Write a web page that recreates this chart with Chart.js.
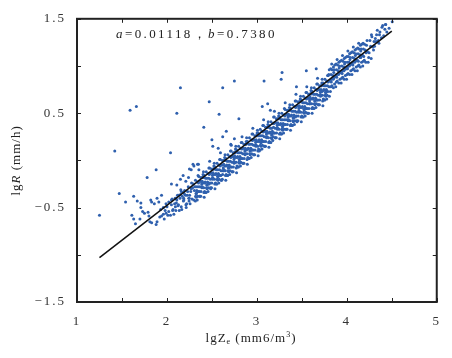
<!DOCTYPE html>
<html>
<head>
<meta charset="utf-8">
<script src="https://cdn.jsdelivr.net/npm/chart.js@4.4.1/dist/chart.umd.min.js"></script>
<style>
  body { margin: 0; background: #fff; }
  canvas { display: block; }
</style>
</head>
<body>
<canvas id="chart" width="452" height="358"></canvas>
<script>
// radar samples: lgZe (x) against lgR (y)
const lgZ = [
  // scattered points away from the cloud
  1.25,1.42,1.59,1.66,2.15,2.11,2.04,1.88,1.78,1.47,1.54,1.63,2.47,2.41,2.50,2.62,2.75,3.08,3.28,3.27,
  2.58,2.80,2.62,2.66,3.12,3.06,3.15,2.75,2.71,2.51,2.57,2.29,2.35,2.25,2.41,3.44,3.55,3.66,
  // low end of the cloud
  1.67,1.71,1.71,1.73,1.61,1.63,1.65,1.70,1.75,1.79,1.80,1.82,1.83,1.86,1.89,1.91,1.94,1.81,1.83,1.88,
  1.89,1.92,1.94,1.96,1.99,2.02,1.99,2.02,2.05,2.10,2.13,2.16,2.05,2.11,2.15,2.18,2.21,2.24,2.27,2.30,2.34,
  1.96,1.97,2.00,2.01,1.93,1.98,
  2.050,2.063,2.039,2.057,
  2.085,2.068,2.091,2.077,2.094,
  2.110,2.123,2.099,2.117,2.105,
  2.145,2.128,2.151,2.137,2.154,
  2.170,2.183,2.159,2.177,2.165,2.186,
  2.205,2.188,2.211,2.197,2.214,2.192,
  2.230,2.243,2.219,2.237,2.225,2.246,
  2.265,2.248,2.271,2.257,2.274,2.252,
  2.285,2.279,
  // main band
  2.310,2.323,2.299,2.317,2.305,2.326,2.295,
  2.345,2.328,2.351,2.337,2.354,2.332,2.342,
  2.370,2.383,2.359,2.377,2.365,2.386,2.355,
  2.405,2.388,2.411,2.397,2.414,2.392,2.402,
  2.430,2.443,2.419,2.437,2.425,2.446,2.415,
  2.465,2.448,2.471,2.457,2.474,2.452,2.462,
  2.490,2.503,2.479,2.497,2.485,2.506,2.475,
  2.525,2.508,2.531,2.517,2.534,2.512,2.522,
  2.550,2.563,2.539,2.557,2.545,2.566,2.535,
  2.585,2.568,2.591,2.577,2.594,2.572,2.582,
  2.610,2.623,2.599,2.617,2.605,2.626,2.595,
  2.645,2.628,2.651,2.637,2.654,2.632,2.642,
  2.670,2.683,2.659,2.677,2.665,2.686,2.655,
  2.705,2.688,2.711,2.697,2.714,2.692,2.702,
  2.730,2.743,2.719,2.737,2.725,2.746,2.715,
  2.765,2.748,2.771,2.757,2.774,2.752,2.762,
  2.790,2.803,2.779,2.797,2.785,2.806,2.775,
  2.825,2.808,2.831,2.817,2.834,2.812,2.822,
  2.850,2.863,2.839,2.857,2.845,2.866,2.835,
  2.885,2.868,2.891,2.877,2.894,2.872,2.882,
  2.910,2.923,2.899,2.917,2.905,2.926,2.895,
  2.945,2.928,2.951,2.937,2.954,2.932,2.942,
  2.970,2.983,2.959,2.977,2.965,2.986,2.955,
  3.005,2.988,3.011,2.997,3.014,2.992,3.002,
  3.030,3.043,3.019,3.037,3.025,3.046,3.015,
  3.065,3.048,3.071,3.057,3.074,3.052,3.062,
  3.090,3.103,3.079,3.097,3.085,3.106,3.075,
  3.125,3.108,3.131,3.117,3.134,3.112,3.122,
  3.150,3.163,3.139,3.157,3.145,3.166,3.135,
  3.185,3.168,3.191,3.177,3.194,3.172,3.182,
  3.210,3.223,3.199,3.217,3.205,3.226,3.195,
  3.245,3.228,3.251,3.237,3.254,3.232,3.242,
  3.270,3.283,3.259,3.277,3.265,3.286,3.255,
  3.305,3.288,3.311,3.297,3.314,3.292,3.302,
  3.330,3.343,3.319,3.337,3.325,3.346,3.315,
  3.365,3.348,3.371,3.357,3.374,3.352,3.362,
  3.390,3.403,3.379,3.397,3.385,3.406,3.375,
  3.425,3.408,3.431,3.417,3.434,3.412,3.422,
  3.450,3.463,3.439,3.457,3.445,3.466,3.435,
  3.485,3.468,3.491,3.477,3.494,3.472,3.482,
  3.510,3.523,3.499,3.517,3.505,3.526,3.495,
  3.545,3.528,3.551,3.537,3.554,3.532,3.542,
  3.570,3.583,3.559,3.577,3.565,3.586,3.555,
  3.605,3.588,3.611,3.597,3.614,3.592,3.602,
  3.630,3.643,3.619,3.637,3.625,3.646,3.615,
  3.665,3.648,3.671,3.657,3.674,3.652,3.662,
  3.690,3.703,3.679,3.697,3.685,3.706,3.675,
  3.725,3.708,3.731,3.717,3.734,3.712,3.722,
  3.750,3.763,3.739,3.757,3.745,3.766,3.735,
  3.785,3.768,3.791,3.777,3.794,3.772,3.782,
  // main band, in-between columns
  2.325,2.333,2.319,2.336,2.316,
  2.355,2.363,2.349,2.366,2.346,
  2.385,2.393,2.379,2.396,2.376,
  2.415,2.423,2.409,2.426,2.406,
  2.445,2.453,2.439,2.456,2.436,
  2.475,2.483,2.469,2.486,2.466,
  2.505,2.513,2.499,2.516,2.496,
  2.535,2.543,2.529,2.546,2.526,
  2.565,2.573,2.559,2.576,2.556,
  2.595,2.603,2.589,2.606,2.586,
  2.625,2.633,2.619,2.636,2.616,
  2.655,2.663,2.649,2.666,2.646,
  2.685,2.693,2.679,2.696,2.676,
  2.715,2.723,2.709,2.726,2.706,
  2.745,2.753,2.739,2.756,2.736,
  2.775,2.783,2.769,2.786,2.766,
  2.805,2.813,2.799,2.816,2.796,
  2.835,2.843,2.829,2.846,2.826,
  2.865,2.873,2.859,2.876,2.856,
  2.895,2.903,2.889,2.906,2.886,
  2.925,2.933,2.919,2.936,2.916,
  2.955,2.963,2.949,2.966,2.946,
  2.985,2.993,2.979,2.996,2.976,
  3.015,3.023,3.009,3.026,3.006,
  3.045,3.053,3.039,3.056,3.036,
  3.075,3.083,3.069,3.086,3.066,
  3.105,3.113,3.099,3.116,3.096,
  3.135,3.143,3.129,3.146,3.126,
  3.165,3.173,3.159,3.176,3.156,
  3.195,3.203,3.189,3.206,3.186,
  3.225,3.233,3.219,3.236,3.216,
  3.255,3.263,3.249,3.266,3.246,
  3.285,3.293,3.279,3.296,3.276,
  3.315,3.323,3.309,3.326,3.306,
  3.345,3.353,3.339,3.356,3.336,
  3.375,3.383,3.369,3.386,3.366,
  3.405,3.413,3.399,3.416,3.396,
  3.435,3.443,3.429,3.446,3.426,
  3.465,3.473,3.459,3.476,3.456,
  3.495,3.503,3.489,3.506,3.486,
  3.525,3.533,3.519,3.536,3.516,
  3.555,3.563,3.549,3.566,3.546,
  3.585,3.593,3.579,3.596,3.576,
  3.615,3.623,3.609,3.626,3.606,
  3.645,3.653,3.639,3.656,3.636,
  3.675,3.683,3.669,3.686,3.666,
  3.705,3.713,3.699,3.716,3.696,
  3.735,3.743,3.729,3.746,3.726,
  3.765,3.773,3.759,3.776,3.756,
  3.795,3.803,3.789,3.806,3.786,
  // high end
  3.810,3.823,3.799,3.817,3.805,3.826,
  3.845,3.828,3.851,3.837,3.854,3.832,
  3.870,3.883,3.859,3.877,3.865,3.886,
  3.905,3.888,3.911,3.897,3.914,3.892,
  3.930,3.943,3.919,3.937,3.925,3.946,
  3.965,3.948,3.971,3.957,3.974,3.952,
  3.990,4.003,3.979,3.997,3.985,4.006,
  4.025,4.008,4.031,4.017,4.034,4.012,
  4.050,4.063,4.039,4.057,4.045,4.066,
  4.085,4.068,4.091,4.077,4.094,4.072,
  4.110,4.123,4.099,4.117,4.105,
  4.145,4.128,4.151,4.137,4.154,4.132,
  4.170,4.183,4.159,4.177,4.165,
  4.205,4.188,4.211,4.197,4.214,
  4.230,4.243,4.219,4.237,4.225,
  4.265,4.248,4.271,4.257,4.274,
  4.290,4.303,4.279,4.297,
  4.325,4.308,4.331,4.317,
  4.350,4.363,4.339,4.357,
  4.385,4.368,4.391,
  4.410,4.423,4.399,
  4.445,4.432,
  4.470,4.505,4.430,
  3.825,3.818,3.834,3.821,
  3.855,3.848,3.864,3.851,
  3.885,3.878,3.894,3.881,
  3.915,3.908,3.924,3.911,
  3.945,3.938,3.954,3.941,
  3.975,3.968,3.984,3.971,
  4.005,3.998,4.014,4.001,
  4.035,4.028,4.044,4.031,
  4.065,4.058,4.074,4.061,
  4.095,4.088,4.104,4.091,
  4.125,4.118,4.134,4.121,
  4.155,4.148,4.164,4.151,
  4.185,4.178,4.194,4.181
];

const lgR = [
  -0.58,0.10,0.53,0.57,0.77,0.50,0.08,-0.10,-0.18,-0.35,-0.44,-0.38,0.62,0.35,0.22,0.77,0.84,0.84,0.93,0.86,
  0.49,0.44,0.25,0.31,0.60,0.57,0.53,0.23,0.17,0.15,0.13,-0.04,-0.04,-0.09,-0.16,0.78,0.95,0.97,
  -0.43,-0.45,-0.50,-0.54,-0.58,-0.62,-0.67,-0.62,-0.56,-0.55,-0.59,-0.42,-0.44,-0.46,-0.40,-0.44,-0.37,-0.65,-0.66,-0.68,
  -0.65,-0.60,-0.59,-0.57,-0.56,-0.54,-0.46,-0.44,-0.42,-0.40,-0.37,-0.33,-0.25,-0.26,-0.20,-0.16,-0.22,-0.18,-0.10,-0.06,-0.04,
  -0.50,-0.62,-0.49,-0.58,-0.52,-0.53,
  -0.47,-0.53,-0.58,-0.41,
  -0.46,-0.52,-0.40,-0.57,-0.49,
  -0.42,-0.48,-0.53,-0.37,-0.45,
  -0.40,-0.47,-0.36,-0.53,-0.31,
  -0.38,-0.43,-0.49,-0.34,-0.52,-0.40,
  -0.37,-0.42,-0.47,-0.32,-0.50,-0.35,
  -0.33,-0.40,-0.46,-0.28,-0.37,-0.43,
  -0.33,-0.40,-0.30,-0.46,-0.24,-0.37,
  -0.29,-0.41,
  -0.28,-0.35,-0.42,-0.21,-0.32,-0.39,-0.25,
  -0.28,-0.35,-0.24,-0.42,-0.17,-0.32,-0.38,
  -0.22,-0.28,-0.33,-0.18,-0.38,-0.25,-0.10,
  -0.24,-0.29,-0.34,-0.18,-0.39,-0.22,-0.15,
  -0.19,-0.26,-0.33,-0.12,-0.23,-0.30,-0.16,
  -0.19,-0.26,-0.15,-0.33,-0.08,-0.23,-0.29,
  -0.13,-0.19,-0.24,-0.09,-0.29,-0.16,-0.01,
  -0.15,-0.20,-0.25,-0.09,-0.30,-0.13,-0.06,
  -0.10,-0.17,-0.24,-0.03,-0.14,-0.21,-0.07,
  -0.10,-0.17,-0.06,-0.24,0.01,-0.14,-0.20,
  -0.05,-0.11,-0.16,0.00,-0.21,-0.08,0.08,
  -0.06,-0.11,-0.16,0.00,-0.21,-0.04,0.03,
  -0.01,-0.08,-0.15,0.06,-0.05,-0.12,0.02,
  -0.01,-0.08,0.03,-0.15,0.10,-0.05,-0.11,
  0.04,-0.02,-0.07,0.08,-0.12,0.01,0.16,
  0.03,-0.03,-0.08,0.09,-0.13,0.05,0.12,
  0.08,0.01,-0.06,0.15,0.04,-0.03,0.11,
  0.08,0.01,0.12,-0.06,0.19,0.04,-0.02,
  0.13,0.07,0.02,0.17,-0.03,0.10,0.25,
  0.11,0.06,0.01,0.17,-0.04,0.13,0.20,
  0.17,0.10,0.03,0.24,0.13,0.06,0.20,
  0.17,0.10,0.21,0.03,0.28,0.13,0.07,
  0.22,0.16,0.11,0.26,0.06,0.19,0.34,
  0.20,0.15,0.10,0.26,0.05,0.22,0.29,
  0.26,0.19,0.12,0.33,0.22,0.15,0.29,
  0.26,0.19,0.30,0.12,0.37,0.22,0.16,
  0.31,0.25,0.20,0.35,0.15,0.28,0.43,
  0.29,0.24,0.19,0.35,0.14,0.31,0.38,
  0.34,0.27,0.20,0.41,0.30,0.23,0.37,
  0.35,0.28,0.39,0.21,0.46,0.31,0.25,
  0.40,0.34,0.29,0.44,0.24,0.37,0.52,
  0.38,0.33,0.28,0.44,0.23,0.40,0.47,
  0.43,0.36,0.29,0.50,0.39,0.32,0.46,
  0.43,0.36,0.47,0.29,0.54,0.39,0.33,
  0.49,0.43,0.38,0.53,0.33,0.46,0.61,
  0.47,0.42,0.37,0.53,0.32,0.49,0.56,
  0.52,0.45,0.38,0.59,0.48,0.41,0.55,
  0.52,0.45,0.56,0.38,0.63,0.48,0.42,
  0.58,0.52,0.47,0.62,0.42,0.55,0.70,
  0.56,0.51,0.46,0.62,0.41,0.58,0.65,
  0.61,0.54,0.47,0.68,0.57,0.50,0.64,
  0.61,0.54,0.65,0.47,0.72,0.57,0.51,
  0.66,0.60,0.55,0.70,0.50,0.63,0.78,
  0.65,0.60,0.55,0.71,0.50,0.67,0.74,
  0.70,0.63,0.56,0.77,0.66,0.59,0.73,
  0.70,0.63,0.74,0.56,0.81,0.66,0.60,
  0.75,0.69,0.64,0.79,0.59,0.72,0.87,
  0.73,0.68,0.63,0.79,0.58,0.75,0.82,
  0.79,0.72,0.65,0.86,0.75,0.68,0.82,
  0.79,0.72,0.83,0.65,0.90,0.75,0.69,
  // in-between columns
  -0.28,-0.33,-0.38,-0.23,-0.43,
  -0.22,-0.28,-0.33,-0.38,-0.16,
  -0.23,-0.28,-0.33,-0.18,-0.38,
  -0.18,-0.24,-0.29,-0.34,-0.12,
  -0.19,-0.24,-0.29,-0.14,-0.34,
  -0.14,-0.20,-0.25,-0.30,-0.08,
  -0.14,-0.19,-0.24,-0.09,-0.29,
  -0.09,-0.15,-0.20,-0.25,-0.03,
  -0.10,-0.15,-0.20,-0.05,-0.25,
  -0.05,-0.11,-0.16,-0.21,0.01,
  -0.05,-0.10,-0.15,0.00,-0.20,
  0.00,-0.06,-0.11,-0.16,0.06,
  -0.01,-0.06,-0.11,0.04,-0.16,
  0.04,-0.02,-0.07,-0.12,0.10,
  0.03,-0.02,-0.07,0.08,-0.12,
  0.09,0.03,-0.02,-0.07,0.15,
  0.08,0.03,-0.02,0.13,-0.07,
  0.13,0.07,0.02,-0.03,0.19,
  0.12,0.07,0.02,0.17,-0.03,
  0.18,0.12,0.07,0.02,0.24,
  0.17,0.12,0.07,0.22,0.02,
  0.22,0.16,0.11,0.06,0.28,
  0.21,0.16,0.11,0.26,0.06,
  0.26,0.20,0.15,0.10,0.32,
  0.26,0.21,0.16,0.31,0.11,
  0.31,0.25,0.20,0.15,0.37,
  0.30,0.25,0.20,0.35,0.15,
  0.35,0.29,0.24,0.19,0.41,
  0.34,0.29,0.24,0.39,0.19,
  0.40,0.34,0.29,0.24,0.46,
  0.39,0.34,0.29,0.44,0.24,
  0.44,0.38,0.33,0.28,0.50,
  0.43,0.38,0.33,0.48,0.28,
  0.49,0.43,0.38,0.33,0.55,
  0.48,0.43,0.38,0.53,0.33,
  0.53,0.47,0.42,0.37,0.59,
  0.52,0.47,0.42,0.57,0.37,
  0.57,0.51,0.46,0.41,0.63,
  0.57,0.52,0.47,0.62,0.42,
  0.62,0.56,0.51,0.46,0.68,
  0.61,0.56,0.51,0.66,0.46,
  0.66,0.60,0.55,0.50,0.72,
  0.65,0.60,0.55,0.70,0.50,
  0.71,0.65,0.60,0.55,0.77,
  0.70,0.65,0.60,0.75,0.55,
  0.75,0.69,0.64,0.59,0.81,
  0.74,0.69,0.64,0.79,0.59,
  0.80,0.74,0.69,0.64,0.86,
  0.79,0.74,0.69,0.84,0.64,
  0.84,0.78,0.73,0.68,0.90,
  // high end
  0.84,0.78,0.91,0.73,0.96,0.86,
  0.90,0.83,0.77,0.96,0.87,1.02,
  0.89,0.83,0.96,0.78,1.01,0.91,
  0.95,0.88,0.82,1.01,0.92,1.07,
  0.93,0.87,1.00,0.82,1.05,0.95,
  0.99,0.92,0.86,1.05,0.96,1.11,
  0.97,0.91,1.04,0.86,1.09,0.99,
  1.04,0.97,0.91,1.10,1.01,1.16,
  1.02,0.96,1.09,0.91,1.14,1.04,
  1.08,1.01,0.95,1.14,1.05,1.20,
  1.06,1.00,1.13,0.95,1.18,
  1.12,1.05,0.99,1.18,1.09,1.24,
  1.11,1.05,1.18,1.00,1.23,
  1.17,1.10,1.04,1.23,1.14,
  1.15,1.09,1.22,1.04,1.27,
  1.21,1.14,1.08,1.27,1.33,
  1.20,1.26,1.31,1.17,
  1.26,1.21,1.33,1.29,
  1.27,1.33,1.38,1.24,
  1.30,1.36,1.41,
  1.32,1.39,1.43,
  1.36,1.44,
  1.40,1.47,1.44,
  0.91,0.84,0.79,0.97,
  0.93,0.86,0.81,0.99,
  0.96,0.89,0.84,1.02,
  0.98,0.91,0.86,1.04,
  1.00,0.93,0.88,1.06,
  1.02,0.95,0.90,1.08,
  1.04,0.97,0.92,1.10,
  1.07,1.00,0.95,1.13,
  1.09,1.02,0.97,1.15,
  1.11,1.04,0.99,1.17,
  1.13,1.06,1.01,1.19,
  1.16,1.09,1.04,1.22,
  1.18,1.11,1.06,1.24
];

// fitted line end points
const fitLgZ = [1.25, 4.50];
const fitLgR = [-1.03, 1.37];

const xTicks = [1, 2, 3, 4, 5];
const yTicks = [-1.5, -0.5, 0.5, 1.5];

const serif = '"Liberation Serif", "Times New Roman", serif';
const ink = '#222';

function drawRich(ctx, parts, x, y, size) {
  // parts: [text, italic, shift] ; shift: 0 normal, 1 sup, -1 sub
  const fontFor = p => (p[1] ? 'italic ' : '') + (p[2] ? Math.round(size * 0.65) : size) + 'px ' + serif;
  let total = 0;
  parts.forEach(p => { ctx.font = fontFor(p); total += ctx.measureText(p[0]).width; });
  let cx = x - total / 2;
  parts.forEach(p => {
    ctx.font = fontFor(p);
    const dy = p[2] === 1 ? -size * 0.35 : p[2] === -1 ? size * 0.25 : 0;
    ctx.fillText(p[0], cx, y + dy);
    cx += ctx.measureText(p[0]).width;
  });
  return total;
}

const framePlugin = {
  id: 'frame',
  beforeDraw(chart) {
    chart.ctx.letterSpacing = '2px';
  },
  afterDraw(chart) {
    const { ctx, chartArea: a, scales: { x, y } } = chart;
    ctx.save();
    ctx.strokeStyle = ink;
    ctx.lineWidth = 1;
    const len = 4;
    ctx.beginPath();
    for (let v = 1; v <= 5; v += 0.5) {
      const px = Math.round(x.getPixelForValue(v)) + 0.5;
      ctx.moveTo(px, a.bottom); ctx.lineTo(px, a.bottom - len);
      ctx.moveTo(px, a.top); ctx.lineTo(px, a.top + len);
    }
    for (let v = -1.5; v <= 1.5; v += 0.5) {
      const py = Math.round(y.getPixelForValue(v)) + 0.5;
      ctx.moveTo(a.left, py); ctx.lineTo(a.left + len, py);
      ctx.moveTo(a.right, py); ctx.lineTo(a.right - len, py);
    }
    ctx.stroke();
    ctx.lineWidth = 2;
    ctx.strokeRect(a.left, a.top, a.right - a.left, a.bottom - a.top);

    ctx.fillStyle = ink;
    ctx.textBaseline = 'middle';
    ctx.textAlign = 'left';
    ctx.letterSpacing = '1px';
    // x title
    drawRich(ctx, [['lg', false, 0], ['Z', false, 0], ['e', false, -1], [' (mm6/m', false, 0], ['3', false, 1], [')', false, 0]],
      251, 339, 13);
    // y title
    ctx.save();
    ctx.translate(17, (a.top + a.bottom) / 2);
    ctx.rotate(-Math.PI / 2);
    drawRich(ctx, [['lg', false, 0], ['R', true, 0], [' (mm/h)', false, 0]], 0, 0, 13);
    ctx.restore();
    // fit coefficients
    ctx.letterSpacing = '2.4px';
    const parts = [['a', true, 0], ['=0.01118，', false, 0], ['b', true, 0], ['=0.7380', false, 0]];
    let w = 0;
    parts.forEach(p => { ctx.font = (p[1] ? 'italic ' : '') + '13px ' + serif; w += ctx.measureText(p[0]).width; });
    drawRich(ctx, parts, 116 + w / 2, 35, 13);
    ctx.restore();
  }
};

const fmt = v => (v < 0 ? '\u2212' : '') + Math.abs(v).toFixed(1);

new Chart(document.getElementById('chart'), {
  type: 'scatter',
  data: {
    datasets: [
      {
        type: 'line',
        data: fitLgZ.map((z, i) => ({ x: z, y: fitLgR[i] })),
        borderColor: '#111',
        borderWidth: 1.5,
        pointRadius: 0,
        fill: false,
        order: 0
      },
      {
        data: lgZ.map((z, i) => ({ x: z, y: lgR[i] })),
        backgroundColor: '#2f60ae',
        borderWidth: 0,
        pointRadius: 1.5,
        order: 1
      }
    ]
  },
  options: {
    responsive: false,
    animation: false,
    devicePixelRatio: 1,
    layout: { padding: { left: 0, right: 10, top: 14, bottom: 0 } },
    plugins: { legend: { display: false }, tooltip: { enabled: false } },
    scales: {
      x: {
        type: 'linear', min: 1, max: 5,
        grid: { display: false, drawTicks: false },
        border: { display: false },
        afterBuildTicks: s => { s.ticks = xTicks.map(v => ({ value: v })); },
        afterFit: s => { s.height = 56; },
        ticks: {
          padding: 12, maxRotation: 0, autoSkip: false,
          color: '#333', font: { family: serif, size: 13 },
          callback: v => String(v)
        }
      },
      y: {
        type: 'linear', min: -1.5, max: 1.5,
        grid: { display: false, drawTicks: false },
        border: { display: false },
        afterBuildTicks: s => { s.ticks = yTicks.map(v => ({ value: v })); },
        afterFit: s => { s.width = 77; },
        ticks: {
          padding: 11, autoSkip: false,
          color: '#333', font: { family: serif, size: 13 },
          callback: v => fmt(v)
        }
      }
    }
  },
  plugins: [framePlugin]
});
</script>
</body>
</html>
